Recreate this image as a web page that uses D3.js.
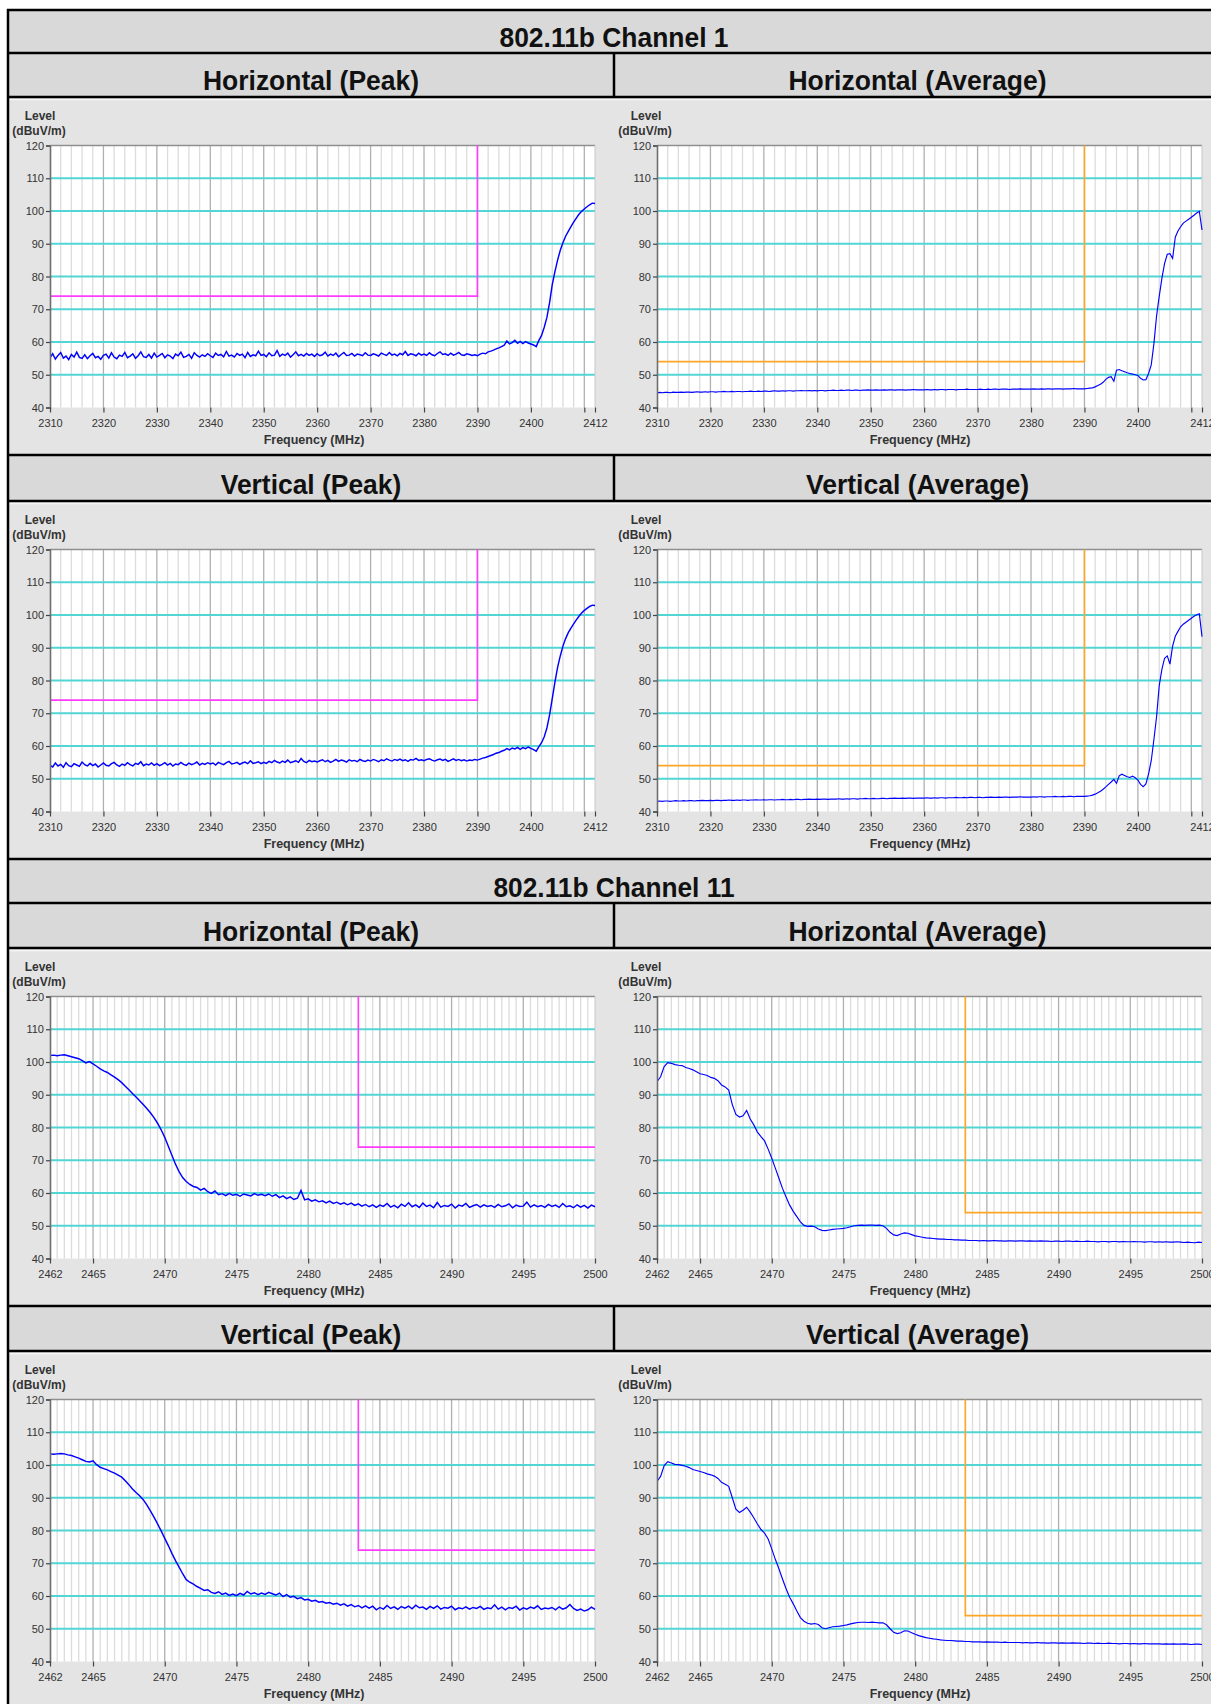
<!DOCTYPE html>
<html><head><meta charset="utf-8">
<script src="https://cdn.jsdelivr.net/npm/d3@7"></script>
<style>
body{margin:0;background:#fff;}
svg{display:block;}
text{font-family:"Liberation Sans",Arial,Helvetica,sans-serif;}
</style>
</head><body>
<svg id="c" width="1211" height="1704"></svg>
<script>
// ---------------- DATA ----------------
const chartTitles = ["802.11b Channel 1", "802.11b Channel 11"];
const panelTitles = ["Horizontal (Peak)", "Horizontal (Average)", "Vertical (Peak)", "Vertical (Average)"];
const yLabelLines = ["Level", "(dBuV/m)"];
const xLabel = "Frequency (MHz)";

const yTicks = [40, 50, 60, 70, 80, 90, 100, 110, 120];
const yGrid = [50, 60, 70, 80, 90, 100, 110];

// Channel 1 sweep: 2310–2412 MHz, one value every 0.5 MHz
const ch1Domain = [2310, 2412];
const ch1Step = 0.5;
const ch1TickValues = [2310, 2320, 2330, 2340, 2350, 2360, 2370, 2380, 2390, 2400, 2410, 2412];
const ch1TickLabels = [2310, 2320, 2330, 2340, 2350, 2360, 2370, 2380, 2390, 2400, 2412];
const ch1MajorGrid = [2320, 2330, 2340, 2350, 2360, 2370, 2380, 2390, 2400, 2410];
const ch1MinorStep = 2;
const ch1BandEdge = 2390;

// Channel 11 sweep: 2462–2500 MHz, one value every 0.25 MHz
const ch11Domain = [2462, 2500];
const ch11Step = 0.25;
const ch11TickValues = [2462, 2465, 2470, 2475, 2480, 2485, 2490, 2495, 2500];
const ch11TickLabels = [2462, 2465, 2470, 2475, 2480, 2485, 2490, 2495, 2500];
const ch11MajorGrid = [2465, 2470, 2475, 2480, 2485, 2490, 2495];
const ch11MinorStep = 0.5;
const ch11BandEdge = 2483.5;

const peakLimit = 74;
const avgLimit = 54;

const ch1HPeak = [
55.2,56.4,54.8,55.9,56.8,55.1,55.7,54.6,56.2,55.4,56.9,55.3,55.0,56.1,54.9,55.8,56.5,55.2,55.6,54.7,
55.9,56.3,55.1,56.7,55.4,54.9,56.0,55.6,56.8,55.2,55.7,56.4,55.0,55.8,57.0,55.5,55.3,56.2,55.1,56.6,
55.4,55.9,56.5,55.2,56.1,55.7,54.9,56.3,55.8,56.9,55.3,55.6,56.2,55.0,56.7,55.9,55.4,56.1,55.6,56.4,
55.8,55.3,56.6,55.9,56.2,55.5,57.1,55.7,56.0,55.4,56.5,55.9,56.3,55.2,56.8,55.6,56.1,55.8,57.2,55.9,
56.2,55.5,56.7,55.8,56.0,57.4,55.6,56.3,55.9,56.6,55.4,56.1,57.0,55.8,56.2,55.7,56.5,55.9,56.3,55.6,
56.4,55.8,56.1,56.9,55.7,56.3,55.9,56.6,55.5,56.2,56.8,55.9,56.0,56.5,55.7,56.3,56.1,55.8,56.7,56.0,
55.9,56.4,56.1,55.7,56.6,56.2,55.9,56.8,56.0,56.3,55.8,56.5,56.1,57.1,55.9,56.4,56.2,55.8,56.6,56.0,
56.3,55.9,56.7,56.1,55.8,56.5,57.0,56.2,56.4,55.9,56.6,56.0,56.3,56.8,56.1,55.9,56.4,56.2,55.9,56.1,
55.8,56.3,56.6,56.4,57.0,57.2,57.5,57.9,58.2,58.6,59.0,60.3,59.4,59.8,60.5,59.6,60.2,59.5,60.1,59.7,
59.4,59.1,58.6,60.5,62.0,64.5,67.5,72.0,77.5,81.5,85.0,88.0,90.3,92.3,93.8,95.2,96.6,97.8,99.0,99.9,
100.6,101.3,101.9,102.4,102.3
];

const ch1HAvg = [
44.5,44.6,44.5,44.6,44.6,44.5,44.7,44.6,44.6,44.7,44.6,44.7,44.7,44.6,44.7,44.8,44.7,44.7,44.8,44.7,
44.8,44.8,44.7,44.8,44.8,44.9,44.8,44.8,44.9,44.8,44.9,44.9,44.8,44.9,44.9,45.0,44.9,44.9,45.0,44.9,
45.0,45.0,44.9,45.0,45.1,45.0,45.0,45.1,45.0,45.1,45.1,45.0,45.1,45.1,45.2,45.1,45.1,45.2,45.1,45.2,
45.1,45.2,45.2,45.1,45.2,45.2,45.3,45.2,45.2,45.3,45.2,45.3,45.3,45.2,45.3,45.3,45.2,45.3,45.3,45.4,
45.3,45.3,45.4,45.3,45.3,45.4,45.3,45.4,45.4,45.3,45.4,45.4,45.4,45.3,45.4,45.4,45.5,45.4,45.4,45.4,
45.4,45.5,45.4,45.4,45.5,45.4,45.5,45.5,45.4,45.5,45.5,45.5,45.4,45.5,45.5,45.5,45.6,45.5,45.5,45.5,
45.5,45.6,45.5,45.5,45.6,45.5,45.6,45.6,45.5,45.6,45.6,45.6,45.5,45.6,45.6,45.6,45.7,45.6,45.6,45.6,
45.6,45.7,45.6,45.6,45.7,45.6,45.7,45.7,45.6,45.7,45.7,45.7,45.6,45.7,45.7,45.7,45.8,45.7,45.7,45.7,
45.7,45.8,45.9,46.0,46.3,46.7,47.1,47.7,48.6,49.2,49.4,48.0,51.4,51.6,51.2,50.9,50.6,50.4,50.2,50.0,
49.8,48.9,48.4,48.5,50.4,53.0,59.5,68.0,74.0,79.5,84.0,86.8,87.0,85.5,92.0,93.9,95.2,96.3,96.9,97.5,
98.1,98.7,99.4,99.9,94.2
];

const ch1VPeak = [
54.1,53.6,54.8,53.9,54.4,53.5,54.9,54.0,53.7,54.6,54.2,53.8,55.1,54.3,53.9,54.7,54.0,54.5,53.6,54.2,
54.8,54.1,53.9,54.6,55.0,54.2,53.8,54.5,54.1,54.9,54.3,53.9,54.7,54.4,55.2,54.0,54.5,54.2,54.8,54.1,
54.6,54.0,54.4,54.9,54.2,54.7,53.9,54.5,54.3,55.0,54.4,54.1,54.8,54.3,54.6,55.1,54.2,54.7,54.4,54.9,
54.5,54.8,54.2,55.0,54.6,54.3,54.9,55.3,54.5,54.7,55.0,54.4,54.8,55.1,54.6,55.5,54.7,54.9,55.2,54.6,
55.0,54.7,55.3,54.9,55.6,55.1,54.8,55.4,55.0,55.7,54.9,55.2,55.5,55.0,56.2,55.3,54.9,55.6,55.2,55.4,
55.1,55.5,55.8,55.2,55.6,55.0,55.4,55.9,55.3,55.7,55.5,55.1,55.8,55.4,55.6,55.2,55.9,55.5,55.3,55.7,
55.4,55.9,55.6,55.2,55.8,55.5,56.1,55.7,55.4,55.9,55.6,56.0,55.5,55.8,55.3,55.9,55.7,56.2,55.6,55.8,
55.5,55.9,56.1,55.7,55.4,55.8,56.0,55.6,55.9,55.3,55.7,56.1,55.6,55.9,55.5,55.8,55.4,55.7,55.6,55.9,
55.7,56.0,56.3,56.5,56.8,57.1,57.4,57.8,58.0,58.4,58.7,59.2,58.8,59.4,59.1,59.6,59.0,59.5,59.2,59.7,
59.3,58.9,58.4,59.8,61.0,62.8,65.5,69.5,74.5,79.5,84.0,87.5,90.5,92.8,94.6,96.0,97.3,98.5,99.6,100.6,
101.4,102.0,102.6,103.0,102.9
];

const ch1VAvg = [
43.1,43.2,43.1,43.2,43.2,43.1,43.2,43.3,43.2,43.2,43.3,43.2,43.3,43.3,43.2,43.3,43.3,43.4,43.3,43.3,
43.4,43.3,43.4,43.4,43.3,43.4,43.4,43.5,43.4,43.4,43.5,43.4,43.5,43.5,43.4,43.5,43.5,43.6,43.5,43.5,
43.6,43.5,43.6,43.6,43.5,43.6,43.6,43.7,43.6,43.6,43.7,43.6,43.7,43.7,43.6,43.7,43.7,43.8,43.7,43.7,
43.8,43.7,43.8,43.8,43.7,43.8,43.8,43.8,43.9,43.8,43.8,43.9,43.8,43.9,43.9,43.8,43.9,43.9,44.0,43.9,
43.9,44.0,43.9,43.9,44.0,44.0,43.9,44.0,44.0,44.1,44.0,44.0,44.1,44.0,44.1,44.1,44.0,44.1,44.1,44.1,
44.1,44.2,44.1,44.1,44.2,44.1,44.2,44.2,44.1,44.2,44.2,44.2,44.3,44.2,44.2,44.3,44.2,44.3,44.3,44.2,
44.3,44.3,44.2,44.3,44.3,44.4,44.3,44.3,44.4,44.3,44.4,44.4,44.3,44.4,44.4,44.4,44.5,44.4,44.4,44.4,
44.4,44.5,44.4,44.5,44.5,44.4,44.5,44.5,44.5,44.6,44.5,44.5,44.6,44.5,44.6,44.6,44.5,44.6,44.6,44.6,
44.6,44.7,44.8,45.0,45.3,45.7,46.2,46.8,47.5,48.3,49.0,49.8,48.6,50.9,51.4,51.0,50.6,50.4,50.8,50.3,
49.6,48.3,47.6,48.4,51.5,55.5,62.0,69.0,78.5,83.5,86.8,87.5,85.0,90.5,93.5,95.0,96.4,97.2,97.8,98.4,
99.0,99.6,100.1,100.4,93.4
];

const ch11HPeak = [
102.0,102.1,101.9,102.1,102.2,101.9,101.6,101.3,101.0,100.4,99.7,100.1,99.4,98.7,97.9,97.3,96.8,96.1,95.4,94.6,
93.7,92.6,91.5,90.4,89.3,88.2,87.0,85.8,84.5,83.0,81.3,79.3,77.0,74.3,71.5,68.8,66.5,64.7,63.5,62.6,
62.0,61.7,60.9,61.4,60.4,59.9,60.6,59.5,59.8,59.2,59.9,59.3,59.6,59.0,59.7,59.4,59.1,59.8,59.3,59.6,
59.2,59.7,59.0,59.5,58.6,59.1,58.3,58.8,58.0,58.4,60.8,57.9,58.2,57.5,57.9,57.3,57.6,57.0,57.5,56.8,
57.2,56.6,57.0,56.4,56.9,56.2,56.7,56.0,56.5,55.8,56.4,55.6,56.3,55.9,56.8,55.7,56.2,55.5,56.6,55.9,
57.0,55.8,56.4,55.6,56.9,55.9,56.3,55.5,57.1,55.7,56.2,55.9,56.6,55.4,56.3,56.0,56.8,55.6,56.1,56.5,
55.7,56.4,55.9,56.2,55.6,56.5,55.8,56.1,56.7,55.5,56.3,55.9,56.0,57.2,55.7,56.4,55.8,56.2,55.6,56.5,
55.9,56.3,55.6,56.8,55.8,56.1,55.5,56.4,55.7,56.2,55.4,56.3,55.8
];

const ch11HAvg = [
94.0,95.5,98.6,99.8,99.6,99.2,99.0,98.9,98.3,98.0,97.6,97.0,96.4,96.2,95.9,95.3,95.0,94.3,93.0,92.4,
91.4,87.0,84.0,83.2,83.6,85.2,82.6,80.8,78.6,77.2,75.9,73.4,70.6,67.6,64.5,61.4,58.8,56.3,54.4,52.8,
51.2,50.1,49.8,49.9,49.7,49.0,48.6,48.5,48.7,48.9,49.0,49.1,49.2,49.4,49.7,50.0,50.1,50.2,50.1,50.2,
50.2,50.1,50.2,50.0,49.2,48.0,47.2,47.0,47.5,47.8,47.7,47.3,46.9,46.7,46.5,46.3,46.2,46.1,46.0,45.9,
45.9,45.8,45.8,45.7,45.7,45.6,45.6,45.5,45.5,45.5,45.4,45.5,45.4,45.4,45.5,45.4,45.4,45.3,45.4,45.4,
45.3,45.4,45.4,45.3,45.4,45.3,45.3,45.4,45.3,45.3,45.2,45.3,45.3,45.2,45.3,45.3,45.2,45.3,45.2,45.2,
45.3,45.2,45.2,45.1,45.2,45.2,45.1,45.2,45.2,45.1,45.2,45.1,45.1,45.2,45.1,45.1,45.0,45.1,45.1,45.0,
45.1,45.0,45.1,45.0,45.0,45.1,45.0,44.9,45.0,44.9,44.8,45.0,44.9
];

const ch11VPeak = [
103.4,103.3,103.4,103.5,103.4,103.1,102.9,102.5,102.1,101.6,101.1,100.9,101.3,100.1,99.3,98.9,98.5,98.0,97.5,96.9,
96.3,95.2,94.0,92.7,91.6,90.6,89.4,87.8,86.0,84.1,82.0,79.9,77.6,75.4,73.0,70.8,68.8,66.8,65.0,64.2,
63.6,62.9,62.3,61.7,61.9,61.1,60.8,61.3,60.5,60.9,60.2,60.6,60.1,60.8,60.3,61.4,60.6,61.0,60.4,60.9,
60.5,61.1,60.7,60.3,60.9,59.8,60.4,59.6,59.9,59.2,59.5,58.8,59.0,58.4,58.7,58.1,58.3,57.8,58.0,57.5,
57.8,57.2,57.6,56.9,57.4,56.7,57.1,56.4,57.0,56.3,56.9,55.8,56.5,56.0,57.1,56.2,56.7,55.9,56.8,56.3,
56.9,56.1,57.2,56.4,56.6,55.9,56.8,56.2,57.0,56.0,56.5,56.3,56.9,55.8,56.4,56.1,56.7,56.0,56.5,56.2,
56.8,55.9,56.4,56.1,57.3,56.0,56.6,55.8,56.5,56.2,56.9,55.7,56.4,56.0,56.6,56.2,57.0,55.9,56.3,56.1,
56.5,55.8,56.7,56.0,56.4,57.4,56.2,55.6,56.0,55.4,55.8,56.6,55.9
];

const ch11VAvg = [
95.0,96.5,99.8,101.0,100.6,100.2,100.1,99.9,99.6,99.2,98.6,98.3,98.0,97.7,97.3,97.0,96.6,95.9,94.7,94.1,
93.5,90.0,86.5,85.5,86.2,87.1,85.6,83.9,82.0,80.3,79.2,77.4,74.4,71.2,68.3,65.2,62.2,59.6,57.6,55.4,
53.4,52.3,51.7,51.4,51.6,51.3,50.3,50.0,50.3,50.6,50.7,50.8,51.0,51.2,51.5,51.7,51.9,52.0,52.0,51.9,
52.0,51.9,51.8,51.8,51.2,50.0,48.9,48.5,48.8,49.4,49.3,48.8,48.3,47.9,47.6,47.3,47.1,46.9,46.8,46.6,
46.5,46.4,46.4,46.3,46.2,46.2,46.1,46.1,46.0,46.0,46.0,45.9,46.0,45.9,45.9,45.9,45.8,45.9,45.8,45.8,
45.8,45.8,45.7,45.8,45.7,45.7,45.8,45.7,45.7,45.6,45.7,45.7,45.6,45.7,45.6,45.6,45.7,45.6,45.6,45.5,
45.6,45.6,45.5,45.6,45.5,45.5,45.6,45.5,45.5,45.4,45.5,45.5,45.4,45.5,45.4,45.4,45.5,45.4,45.4,45.4,
45.4,45.3,45.4,45.3,45.4,45.3,45.3,45.4,45.3,45.2,45.3,45.3,45.2
];

// ---------------- LAYOUT ----------------
const svg = d3.select("#c");
const TL = 8, TR = 1221, MID = 614;
const headerFill = "#d9d9d9", cellFill = "#e4e4e4";

const channels = [
  {domain: ch1Domain, step: ch1Step, ticks: ch1TickValues, labels: ch1TickLabels, major: ch1MajorGrid,
   minorStep: ch1MinorStep, edge: ch1BandEdge, side: "left",
   series: [ch1HPeak, ch1HAvg, ch1VPeak, ch1VAvg]},
  {domain: ch11Domain, step: ch11Step, ticks: ch11TickValues, labels: ch11TickLabels, major: ch11MajorGrid,
   minorStep: ch11MinorStep, edge: ch11BandEdge, side: "right",
   series: [ch11HPeak, ch11HAvg, ch11VPeak, ch11VAvg]}
];

const rows = [
  {kind: "title", y0: 10, y1: 53, ch: 0},
  {kind: "sub", y0: 53, y1: 97, p: [0, 1]},
  {kind: "chart", y0: 97, y1: 455, ch: 0, s: [0, 1]},
  {kind: "sub", y0: 455, y1: 501, p: [2, 3]},
  {kind: "chart", y0: 501, y1: 859, ch: 0, s: [2, 3]},
  {kind: "title", y0: 859, y1: 903, ch: 1},
  {kind: "sub", y0: 903, y1: 948, p: [0, 1]},
  {kind: "chart", y0: 948, y1: 1306, ch: 1, s: [0, 1]},
  {kind: "sub", y0: 1306, y1: 1351, p: [2, 3]},
  {kind: "chart", y0: 1351, y1: 1709, ch: 1, s: [2, 3]}
];

const titleWidths = [229, 241];
const panelWidths = [216, 258, 180.5, 223];

const defs = svg.append("defs");
let clipId = 0;

rows.forEach(r => {
  if (r.kind === "title") {
    svg.append("rect").attr("x", TL).attr("y", r.y0).attr("width", TR - TL).attr("height", r.y1 - r.y0).attr("fill", headerFill);
    svg.append("text").attr("x", MID).attr("y", r.y1 - 5.8).attr("text-anchor", "middle")
      .attr("font-size", 27).attr("font-weight", "bold").attr("fill", "#111")
      .attr("textLength", titleWidths[r.ch]).attr("lengthAdjust", "spacingAndGlyphs")
      .text(chartTitles[r.ch]);
  } else if (r.kind === "sub") {
    svg.append("rect").attr("x", TL).attr("y", r.y0).attr("width", TR - TL).attr("height", r.y1 - r.y0).attr("fill", headerFill);
    [0, 1].forEach(c => {
      const cx = c === 0 ? (TL + MID) / 2 : (MID + TR) / 2;
      const pi = r.p[c];
      svg.append("text").attr("x", cx).attr("y", r.y1 - 7.5).attr("text-anchor", "middle")
        .attr("font-size", 27.5).attr("font-weight", "bold").attr("fill", "#111")
        .attr("textLength", panelWidths[pi]).attr("lengthAdjust", "spacingAndGlyphs")
        .text(panelTitles[pi]);
    });
    svg.append("line").attr("x1", MID).attr("x2", MID).attr("y1", r.y0).attr("y2", r.y1 + 3)
      .attr("stroke", "#000").attr("stroke-width", 2.5);
  } else {
    svg.append("rect").attr("x", TL).attr("y", r.y0).attr("width", TR - TL).attr("height", r.y1 - r.y0).attr("fill", cellFill);
    svg.append("line").attr("x1", TL).attr("x2", TR).attr("y1", r.y0 + 2.5).attr("y2", r.y0 + 2.5)
      .attr("stroke", "#f6f6f6").attr("stroke-width", 1.5);
    [0, 1].forEach(c => drawChart(r, c));
  }
});

// borders
rows.forEach(r => {
  svg.append("line").attr("x1", TL - 1).attr("x2", TR).attr("y1", r.y0).attr("y2", r.y0)
    .attr("stroke", "#000").attr("stroke-width", 2.5);
});
svg.append("line").attr("x1", TL).attr("x2", TL).attr("y1", 9).attr("y2", 1710)
  .attr("stroke", "#000").attr("stroke-width", 2.5);
svg.append("line").attr("x1", TR).attr("x2", TR).attr("y1", 9).attr("y2", 1710)
  .attr("stroke", "#000").attr("stroke-width", 2.5);

function drawChart(r, c) {
  const chan = channels[r.ch];
  const si = r.s[c];
  const vals = chan.series[si];
  const isPeak = (si % 2 === 0);
  const cellX = c === 0 ? TL : MID;
  const px0 = c === 0 ? 50 : 657;
  const pw = 545;
  const py0 = r.y0 + 48.5;
  const ph = 262;
  const g = svg.append("g");

  const x = d3.scaleLinear().domain(chan.domain).range([px0, px0 + pw]);
  const y = d3.scaleLinear().domain([40, 120]).range([py0 + ph, py0]);

  g.append("rect").attr("x", px0).attr("y", py0).attr("width", pw).attr("height", ph).attr("fill", "#fff");

  // minor vertical grid
  const minor = d3.range(chan.domain[0] + chan.minorStep, chan.domain[1] - 1e-6, chan.minorStep)
    .filter(v => !chan.major.some(m => Math.abs(m - v) < 1e-6));
  g.append("g").selectAll("line").data(minor).join("line")
    .attr("x1", d => x(d)).attr("x2", d => x(d)).attr("y1", py0).attr("y2", py0 + ph)
    .attr("stroke", "#dcdcdc").attr("stroke-width", 1.3);
  g.append("g").selectAll("line").data(chan.major).join("line")
    .attr("x1", d => x(d)).attr("x2", d => x(d)).attr("y1", py0).attr("y2", py0 + ph)
    .attr("stroke", "#b0b0b0").attr("stroke-width", 1.3);

  // horizontal cyan grid
  g.append("g").selectAll("line").data(yGrid).join("line")
    .attr("x1", px0).attr("x2", px0 + pw).attr("y1", d => y(d)).attr("y2", d => y(d))
    .attr("stroke", "#52d5d5").attr("stroke-width", 2);

  // frame
  g.append("line").attr("x1", px0).attr("x2", px0 + pw).attr("y1", py0).attr("y2", py0)
    .attr("stroke", "#8f8f8f").attr("stroke-width", 1.5);
  g.append("line").attr("x1", px0 + pw).attr("x2", px0 + pw).attr("y1", py0).attr("y2", py0 + ph)
    .attr("stroke", "#c8c8c8").attr("stroke-width", 1);

  // limit line
  const limitY = isPeak ? peakLimit : avgLimit;
  const limitColor = isPeak ? "#ff3cff" : "#ffa628";
  let d;
  if (chan.side === "left") {
    d = `M${x(chan.domain[0])},${y(limitY)}H${x(chan.edge)}V${y(120)}`;
  } else {
    d = `M${x(chan.edge)},${y(120)}V${y(limitY)}H${x(chan.domain[1])}`;
  }
  g.append("path").attr("d", d).attr("fill", "none").attr("stroke", limitColor).attr("stroke-width", 1.6);

  // trace
  const id = "clip" + (clipId++);
  defs.append("clipPath").attr("id", id).append("rect")
    .attr("x", px0).attr("y", py0).attr("width", pw + 1).attr("height", ph);
  const line = d3.line()
    .x((v, i) => x(chan.domain[0] + i * chan.step))
    .y(v => y(v));
  g.append("path").datum(vals).attr("d", line).attr("clip-path", `url(#${id})`)
    .attr("fill", "none").attr("stroke", "#0000ff").attr("stroke-width", isPeak ? 1.45 : 1.15)
    .attr("stroke-linejoin", "miter");

  // y axis
  const ya = g.append("g").attr("transform", `translate(${px0},0)`)
    .call(d3.axisLeft(y).tickValues(yTicks).tickSize(4).tickPadding(2).tickFormat(d3.format("d")));
  ya.select(".domain").attr("stroke", "#6e6e6e").attr("stroke-width", 1.6);
  ya.selectAll(".tick line").attr("stroke", "#444").attr("stroke-width", 1.2);
  ya.selectAll("text").attr("font-size", 11).attr("fill", "#333")
    .attr("font-family", "'Liberation Sans',Arial,sans-serif");

  // x axis
  const xa = g.append("g").attr("transform", `translate(0,${py0 + ph})`)
    .call(d3.axisBottom(x).tickValues(chan.ticks).tickSize(5).tickPadding(7)
      .tickFormat(v => chan.labels.includes(v) ? String(v) : ""));
  xa.select(".domain").remove();
  xa.selectAll(".tick line").attr("stroke", "#444").attr("stroke-width", 1.2);
  xa.selectAll("text").attr("font-size", 11).attr("fill", "#333")
    .attr("font-family", "'Liberation Sans',Arial,sans-serif");

  // axis titles
  g.append("text").attr("x", cellX + 32).attr("y", r.y0 + 22.6).attr("text-anchor", "middle")
    .attr("font-size", 12).attr("font-weight", "bold").attr("fill", "#333").text(yLabelLines[0]);
  g.append("text").attr("x", cellX + 31).attr("y", r.y0 + 37.8).attr("text-anchor", "middle")
    .attr("font-size", 12).attr("font-weight", "bold").attr("fill", "#333").text(yLabelLines[1]);
  g.append("text").attr("x", cellX + 306).attr("y", r.y0 + 346.5).attr("text-anchor", "middle")
    .attr("font-size", 12.5).attr("font-weight", "bold").attr("fill", "#333").text(xLabel);
}
</script>
</body></html>
